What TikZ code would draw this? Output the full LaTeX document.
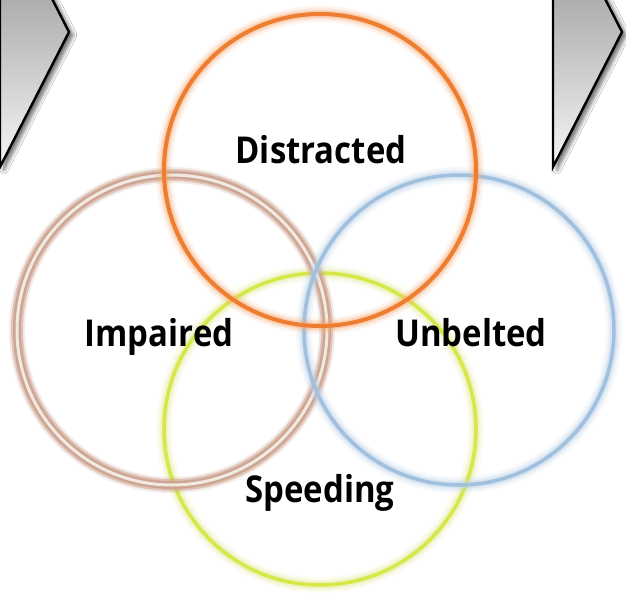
\documentclass[tikz,border=0pt]{standalone}
\usepackage{fontspec}
\setmainfont{Open Sans}[FakeStretch=0.89]
\usetikzlibrary{shadows.blur}
\definecolor{orng}{RGB}{237,125,49}
\definecolor{orngglow}{RGB}{248,170,112}
\definecolor{blu}{RGB}{160,192,222}
\definecolor{bluglow}{RGB}{185,208,232}
\definecolor{ylw}{RGB}{214,232,72}
\definecolor{ylwglow}{RGB}{228,236,150}
\definecolor{brn}{RGB}{204,160,140}
\definecolor{brnline}{RGB}{240,234,226}
\definecolor{chevtop}{RGB}{130,130,130}
\definecolor{chevbot}{RGB}{246,246,246}
\tikzset{
  chev/.style={draw=black, line width=2.4pt, line join=miter, top color=chevtop, bottom color=chevbot,
    blur shadow={shadow xshift=4pt, shadow yshift=-3pt, shadow blur steps=6, shadow blur radius=4pt, shadow opacity=60}},
  lbl/.style={font=\bfseries\fontsize{37}{40}\selectfont, text=black, inner sep=0pt, anchor=base},
}
\newcommand{\glowring}[5]{% center, radius, glowcolor, maincolor, mainwidth
  \draw[#3, opacity=0.12, line width=16pt] (#1) circle (#2);
  \draw[#3, opacity=0.22, line width=11pt] (#1) circle (#2);
  \draw[#3, opacity=0.35, line width=7pt] (#1) circle (#2);
  \draw[#4, line width=#5] (#1) circle (#2);
}
\begin{document}
\begin{tikzpicture}[x=1pt,y=-1pt]
\useasboundingbox (0,0) rectangle (626,592);
\fill[white] (0,0) rectangle (626,592);
\begin{scope}
\clip (0,0) rectangle (626,592);
% chevrons
\path[chev] (0,-103) -- (69,32) -- (0,167) -- cycle;
\path[chev] (553,-103) -- (622,32) -- (553,167) -- cycle;
% circle centres
\coordinate (cD) at (320,170);
\coordinate (cU) at (459,330);
\coordinate (cS) at (320,429);
\coordinate (cI) at (172,330);
% speeding
\glowring{cS}{156}{ylwglow}{ylw}{3.5pt}
% impaired
\draw[brn, opacity=0.2, line width=16pt] (cI) circle (155);
\draw[brn, opacity=0.5, line width=12pt] (cI) circle (155);
\draw[brn, opacity=0.85, line width=8pt] (cI) circle (155);
\draw[brnline, line width=3pt] (cI) circle (155);
% unbelted
\glowring{cU}{155}{bluglow}{blu}{3.5pt}
% distracted
\glowring{cD}{156}{orngglow}{orng}{4pt}
\end{scope}
\node[lbl] (tD) at (321,163) {Distracted};
\node[lbl] (tI) at (159,346) {Impaired};
\node[lbl] (tU) at (471,346) {Unbelted};
\node[lbl] (tS) at (320,502) {Speeding};
\end{tikzpicture}
\end{document}
